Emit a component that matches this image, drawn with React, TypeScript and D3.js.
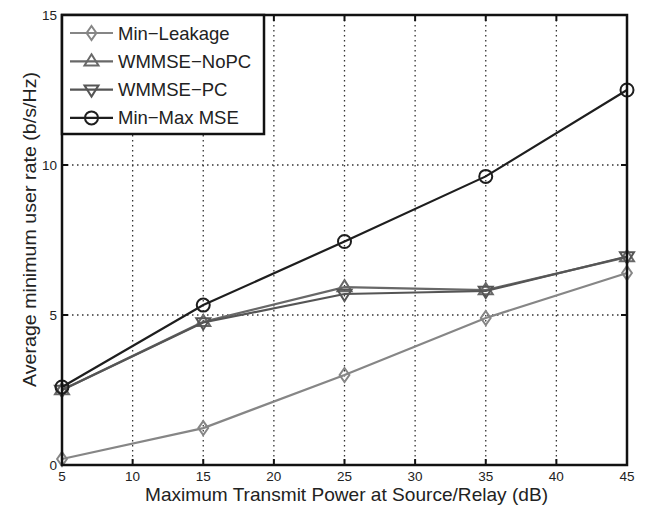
import React from "react";
import * as d3 from "d3";

const powers = [5, 15, 25, 35, 45];
const minLeakage = [0.2, 1.23, 3.0, 4.9, 6.4];
const wmmseNoPC = [2.5, 4.77, 5.93, 5.83, 6.93];
const wmmsePC = [2.5, 4.75, 5.7, 5.8, 6.95];
const minMaxMSE = [2.6, 5.33, 7.45, 9.62, 12.5];
const xTicks = [5, 10, 15, 20, 25, 30, 35, 40, 45];
const yTicks = [0, 5, 10, 15];

const series = [
  { name: "Min\u2212Leakage", values: minLeakage, color: "#868686", marker: "diamond" },
  { name: "WMMSE\u2212NoPC", values: wmmseNoPC, color: "#686868", marker: "up" },
  { name: "WMMSE\u2212PC", values: wmmsePC, color: "#555555", marker: "down" },
  { name: "Min\u2212Max MSE", values: minMaxMSE, color: "#1e1e1e", marker: "circle" },
];

const W = 649, H = 507;
const L = 62, R = 627, T = 15, B = 465;

function Marker({ type, x, y, color }: { type: string; x: number; y: number; color: string }) {
  const s = 7;
  const common = { fill: "none", stroke: color, strokeWidth: 2 };
  if (type === "diamond")
    return <path d={`M${x},${y - s}L${x + s * 0.7},${y}L${x},${y + s}L${x - s * 0.7},${y}Z`} {...common} />;
  if (type === "up")
    return <path d={`M${x},${y - s}L${x + s},${y + s * 0.6}L${x - s},${y + s * 0.6}Z`} {...common} />;
  if (type === "down")
    return <path d={`M${x},${y + s}L${x + s},${y - s * 0.6}L${x - s},${y - s * 0.6}Z`} {...common} />;
  return <circle cx={x} cy={y} r={6.5} {...common} />;
}

export default function App() {
  const x = d3.scaleLinear().domain([5, 45]).range([L, R]);
  const y = d3.scaleLinear().domain([0, 15]).range([B, T]);
  const line = d3.line<number>().x((_, i) => x(powers[i])).y((d) => y(d));
  const font = "'Liberation Sans', Arial, Helvetica, sans-serif";

  return (
    <svg width={W} height={H} style={{ position: "absolute", left: 0, top: 0 }} fontFamily={font}>
      <rect width={W} height={H} fill="#fff" />
      {xTicks.slice(1, -1).map((t) => (
        <line key={"gx" + t} x1={x(t)} x2={x(t)} y1={T} y2={B} stroke="#333" strokeWidth={1.3} strokeDasharray="1.5,3.5" />
      ))}
      {yTicks.slice(1, -1).map((t) => (
        <line key={"gy" + t} x1={L} x2={R} y1={y(t)} y2={y(t)} stroke="#333" strokeWidth={1.3} strokeDasharray="1.5,3.5" />
      ))}
      {xTicks.map((t) => (
        <g key={"tx" + t}>
          <line x1={x(t)} x2={x(t)} y1={B} y2={B - 6} stroke="#111" strokeWidth={2} />
          <line x1={x(t)} x2={x(t)} y1={T} y2={T + 6} stroke="#111" strokeWidth={2} />
          <text x={x(t)} y={B + 16} fontSize={13.5} textAnchor="middle" fill="#222">{t}</text>
        </g>
      ))}
      {yTicks.map((t) => (
        <g key={"ty" + t}>
          <line x1={L} x2={L + 6} y1={y(t)} y2={y(t)} stroke="#111" strokeWidth={2} />
          <line x1={R} x2={R - 6} y1={y(t)} y2={y(t)} stroke="#111" strokeWidth={2} />
          <text x={L - 5} y={y(t) + 5} fontSize={13.5} textAnchor="end" fill="#222">{t}</text>
        </g>
      ))}
      {series.map((s) => (
        <g key={s.name}>
          <path d={line(s.values) || ""} fill="none" stroke={s.color} strokeWidth={2.2} />
          {s.values.map((v, i) => (
            <Marker key={i} type={s.marker} x={x(powers[i])} y={y(v)} color={s.color} />
          ))}
        </g>
      ))}
      <rect x={L} y={T} width={R - L} height={B - T} fill="none" stroke="#111" strokeWidth={2.5} />
      <rect x={L} y={T} width={202} height={119} fill="#fff" stroke="#111" strokeWidth={2.5} />
      {series.map((s, i) => {
        const ly = 33 + i * 28.3;
        return (
          <g key={"lg" + i}>
            <line x1={70} x2={113} y1={ly} y2={ly} stroke={s.color} strokeWidth={2.2} />
            <Marker type={s.marker} x={91.5} y={ly} color={s.color} />
            <text x={118} y={ly + 6.5} fontSize={18.5} fill="#222">{s.name}</text>
          </g>
        );
      })}
      <text x={(L + R) / 2 + 2} y={501} fontSize={18.5} textAnchor="middle" fill="#222" textLength={403} lengthAdjust="spacingAndGlyphs">
        Maximum Transmit Power at Source/Relay (dB)
      </text>
      <text transform={`translate(36,229.5) rotate(-90)`} fontSize={18} textAnchor="middle" fill="#222" textLength={315} lengthAdjust="spacingAndGlyphs">
        Average minimum user rate (b/s/Hz)
      </text>
    </svg>
  );
}
